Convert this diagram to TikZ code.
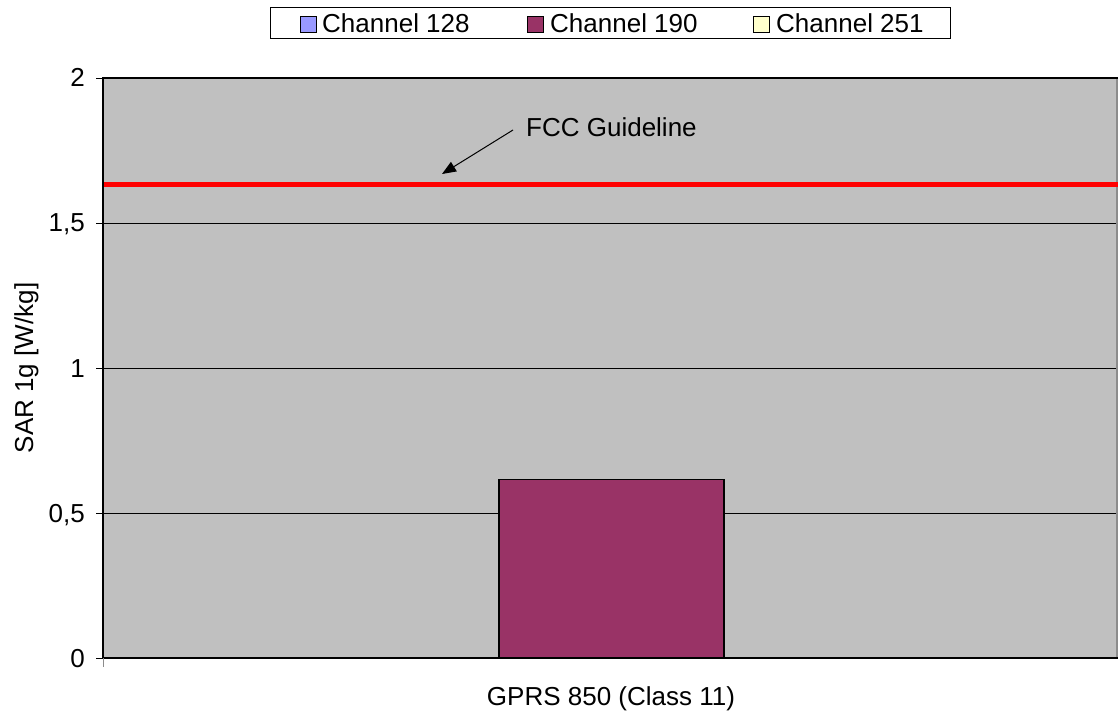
\documentclass[tikz,border=0pt]{standalone}
\usepackage{fontspec}
\setmainfont{Liberation Sans}
\usetikzlibrary{arrows.meta}

\definecolor{plotgray}{RGB}{192,192,192}
\definecolor{chanlow}{RGB}{153,153,255}
\definecolor{chanmid}{RGB}{153,51,102}
\definecolor{chanhigh}{RGB}{255,255,204}

\tikzset{
	ticklabel/.style={anchor=base east, inner sep=0pt},
	legendkey/.style={draw=black, line width=1pt},
	legendtext/.style={anchor=base west, inner sep=0pt}
}

\begin{document}
\begin{tikzpicture}[x=1pt, y=-1pt, font=\fontsize{26}{30}\selectfont]
			%%%%% START %%%%%
			
			\useasboundingbox[fill=white] (0, 0) rectangle (1118, 711);
			
			% plot area and grid
			\fill[plotgray] (103, 78) rectangle (1118, 658);
			\foreach \v in {0.5, 1, 1.5}
				\draw[line width=0.8pt] (103, {658-\v*290}) -- (1118, {658-\v*290});
			\draw[line width=1.2pt, color=black!45] (1117, 78) -- (1117, 658);
			\draw[line width=1.5pt] (103, 78) -- (1118, 78);
			
			% bar
			\draw[fill=chanmid, line width=1.2pt] (499, 658) rectangle (724, {658-0.616*290});
			
			% axes
			\draw[line width=2.5pt] (103, 77) -- (103, 659);
			\draw[line width=2.5pt] (102, 658) -- (1118, 658);
			\foreach \v/\t in {0/0, 0.5/{0,5}, 1/1, 1.5/{1,5}, 2/2} {
				\draw[line width=0.8pt] (96, {658-\v*290}) -- (103, {658-\v*290});
				\node[ticklabel] (tick\v) at (85, {658-\v*290+9}) {\t};
			}
			\draw[line width=0.8pt, color=black!45] (103, 658) -- (103, 667);
			
			% guideline
			\draw[line width=5pt, color=red] (104, {658-1.632*290}) -- (1118, {658-1.632*290});
			\node[anchor=west, inner sep=0pt] (fcc) at (526, 127) {FCC Guideline};
			\coordinate (fcctail) at (513, 130);
			\coordinate (fcchead) at (442, 174);
			\draw[line width=1pt, -{Triangle[length=14pt, width=11pt]}] (fcctail) -- (fcchead);
			
			% axis titles
			\node[rotate=90, anchor=base, inner sep=0pt] (ytitle) at (33, 368) {SAR 1g [W/kg]};
			\node[anchor=base, inner sep=0pt] (xtitle) at (611, 705) {GPRS 850 (Class 11)};
			
			% legend
			\draw[line width=0.8pt, fill=white] (270, 7) rectangle (950, 38);
			\draw[legendkey, fill=chanlow] (300, 17) rectangle (316, 33);
			\node[legendtext] (leg128) at (322, 33) {Channel 128};
			\draw[legendkey, fill=chanmid] (527, 17) rectangle (543, 33);
			\node[legendtext] (leg190) at (550, 33) {Channel 190};
			\draw[legendkey, fill=chanhigh] (753, 17) rectangle (769, 33);
			\node[legendtext] (leg251) at (776, 33) {Channel 251};
			
			%%%%% END %%%%%
		\end{tikzpicture}
\end{document}
